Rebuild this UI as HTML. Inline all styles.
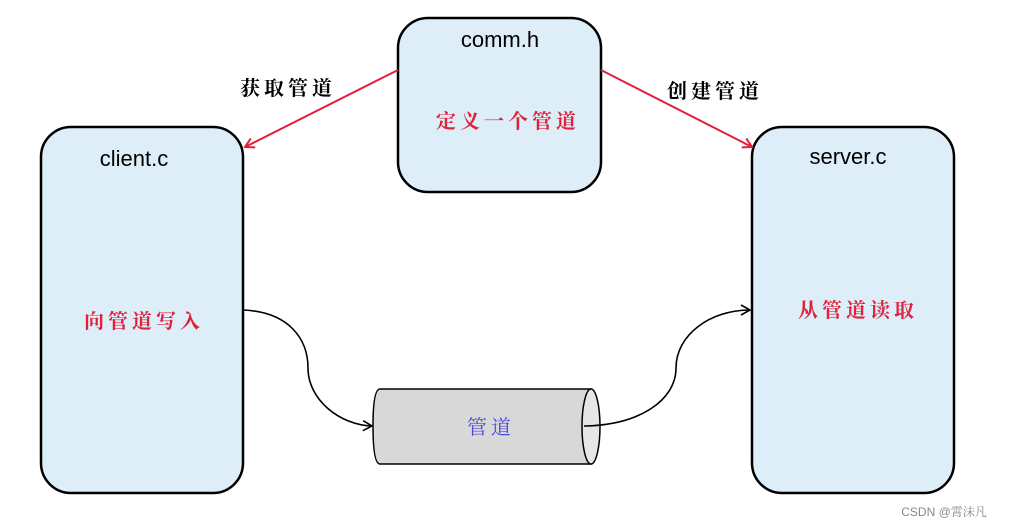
<!DOCTYPE html>
<html><head><meta charset="utf-8"><style>
html,body{margin:0;padding:0;background:#fff;}
svg{display:block;}
text{font-family:"Liberation Sans","Noto Serif CJK SC",sans-serif;}
.cn{font-family:"Noto Serif CJK SC","WenQuanYi Zen Hei",serif;font-weight:bold;letter-spacing:4px;}
</style></head><body>
<svg width="1010" height="527" viewBox="0 0 1010 527" xmlns="http://www.w3.org/2000/svg">
<defs>
<marker id="ar" markerWidth="12" markerHeight="12" refX="10" refY="6" orient="auto" markerUnits="userSpaceOnUse">
<path d="M1,1 L10,6 L1,11" fill="none" stroke="#e0213c" stroke-width="2"/></marker>
<marker id="ab" markerWidth="12" markerHeight="12" refX="10" refY="6" orient="auto" markerUnits="userSpaceOnUse">
<path d="M1,1 L10,6 L1,11" fill="none" stroke="#000" stroke-width="1.6"/></marker>
</defs>
<rect x="41" y="127" width="202" height="366" rx="30" fill="#ddeef9" stroke="#000" stroke-width="2.5"/>
<rect x="398" y="18" width="203" height="174" rx="30" fill="#ddeef9" stroke="#000" stroke-width="2.5"/>
<rect x="752" y="127" width="202" height="366" rx="30" fill="#ddeef9" stroke="#000" stroke-width="2.5"/>
<text x="500" y="47" font-size="22" text-anchor="middle">comm.h</text>
<text x="134" y="166" font-size="22" text-anchor="middle">client.c</text>
<text x="848" y="164" font-size="22" text-anchor="middle">server.c</text>
<text x="508" y="128" font-size="20" fill="#e0213c" class="cn" text-anchor="middle">定义一个管道</text>
<text x="144" y="328" font-size="20" fill="#e0213c" class="cn" text-anchor="middle">向管道写入</text>
<text x="858" y="317" font-size="20" fill="#e0213c" class="cn" text-anchor="middle">从管道读取</text>
<text x="288" y="95" font-size="20" fill="#000" class="cn" text-anchor="middle">获取管道</text>
<text x="715" y="98" font-size="20" fill="#000" class="cn" text-anchor="middle">创建管道</text>
<line x1="398" y1="70" x2="245" y2="147" stroke="#e0213c" stroke-width="2" marker-end="url(#ar)"/>
<line x1="601" y1="70" x2="752" y2="147" stroke="#e0213c" stroke-width="2" marker-end="url(#ar)"/>
<path d="M380,389 L591,389 L591,464 L380,464 Q373,464 373,426 Q373,389 380,389 Z" fill="#d8d8d8" stroke="#000" stroke-width="1.5"/>
<ellipse cx="591" cy="426.5" rx="9" ry="37.5" fill="#e6e6e6" stroke="#000" stroke-width="1.5"/>
<text x="491" y="434" font-size="20" fill="#4a4adf" class="cn" text-anchor="middle" style="font-weight:normal">管道</text>
<path d="M243,310 C290,312 308,340 308,368 C308,400 340,425 372,426" fill="none" stroke="#000" stroke-width="1.6" marker-end="url(#ab)"/>
<path d="M584,426 C640,425 676,400 676,368 C676,335 710,310 750,310" fill="none" stroke="#000" stroke-width="1.6" marker-end="url(#ab)"/>
<text x="944" y="516" font-size="12" fill="#888" text-anchor="middle">CSDN @霄沫凡</text>
</svg>
</body></html>
